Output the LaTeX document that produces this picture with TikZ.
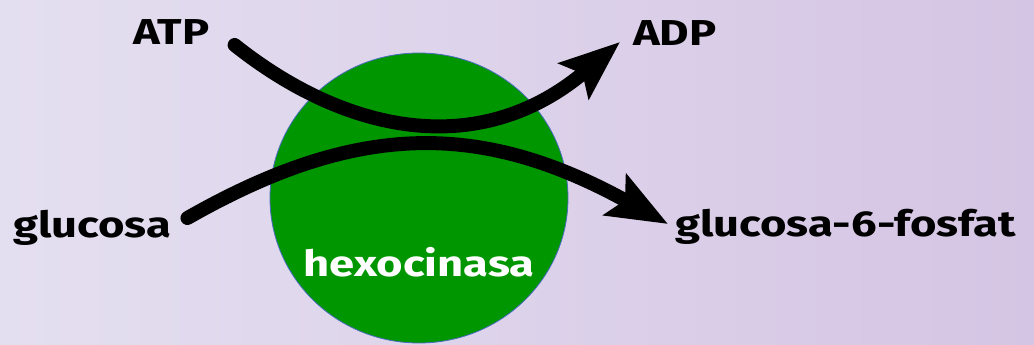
\documentclass[tikz,border=0pt]{standalone}
\usepackage{fontspec}
\setmainfont{Fira Sans}[FakeStretch=1.26]
\usepackage{tikz}
\usetikzlibrary{arrows.meta,shapes.geometric,calc}
\definecolor{bgleft}{HTML}{E4DFF0}
\definecolor{bgright}{HTML}{D5C5E4}
\definecolor{enzyme}{HTML}{009600}
\definecolor{rim}{HTML}{4A6BC0}

\begin{document}
\begin{tikzpicture}[x=1pt, y=-1pt,
  label/.style={inner sep=0pt, anchor=base west, font=\fontsize{36}{40}\selectfont\bfseries},
  enz/.style={ellipse, fill=enzyme, draw=rim, line width=0.8pt,
              minimum width=298pt, minimum height=290pt, inner sep=0pt},
  flow/.style={line width=14pt, line cap=round,
               -{Stealth[length=60pt, width=46pt, inset=11pt]}},
]
  \shade[left color=bgleft, right color=bgright] (0,0) rectangle (1034,345);
  \useasboundingbox (0,0) rectangle (1034,345);

  \node[enz] (hk) at (419,198) {};
  \node[label, anchor=base, text=white] (hkname) at (419,276) {hexocinasa};

  \node[label] (atp) at (133,45) {ATP};
  \node[label] (adp) at (633,46) {ADP};
  \node[label] (glc) at (13,237) {glucosa};
  \node[label] (g6p) at (675,236) {glucosa-6-fosfat};

  \coordinate (atpout) at ([xshift=25pt]atp.base east);
  \coordinate (adpin) at ([shift={(-13pt,4pt)}]adp.base west);
  \coordinate (glcout) at ([shift={(16pt,19pt)}]glc.base east);
  \coordinate (g6pin) at ([shift={(-7pt,12pt)}]g6p.base west);

  \draw[flow] (atpout) .. controls (344,132) and (478,162) .. (adpin);
  \draw[flow] (glcout) .. controls (356,122) and (480,120) .. (g6pin);
\end{tikzpicture}
\end{document}
